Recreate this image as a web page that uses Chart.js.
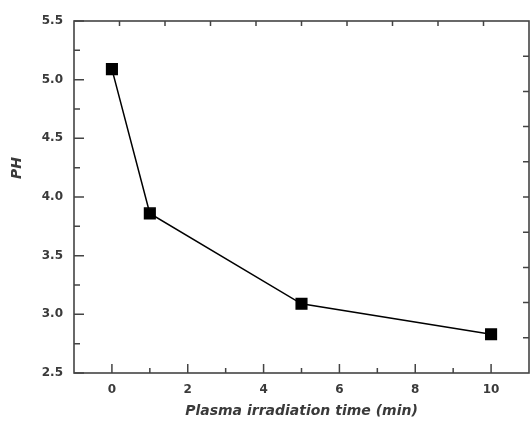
<!DOCTYPE html>
<html>
<head>
<meta charset="utf-8">
<script src="https://cdn.jsdelivr.net/npm/chart.js@4/dist/chart.umd.min.js"></script>
<style>
  html, body { margin: 0; padding: 0; background: #fff; overflow: hidden; }
  canvas { display: block; }
</style>
</head>
<body>
<canvas id="phChart" width="531" height="424"></canvas>
<script>
const times = [0, 1, 5, 10];
const phValues = [5.09, 3.86, 3.09, 2.83];
const xTicks = [0, 2, 4, 6, 8, 10];
const xMinor = [1, 3, 5, 7, 9];
const yTicks = [2.5, 3.0, 3.5, 4.0, 4.5, 5.0, 5.5];
const yMinor = [2.75, 3.25, 3.75, 4.25, 4.75, 5.25];
const frameTicks = [1, 2, 3, 4, 5, 6, 7, 8, 9];
const yTitle = "PH";

const axisColor = "#444";
const labelColor = "#3a3a3a";
const fontFamily = "'DejaVu Sans', sans-serif";

// inward tick marks on all four sides, the frame, and the y title
const frameTicksPlugin = {
  id: "frameTicks",
  afterDraw(chart) {
    const { ctx, chartArea: a, scales } = chart;
    ctx.save();
    ctx.strokeStyle = axisColor;
    ctx.lineWidth = 1.6;
    ctx.strokeRect(a.left, a.top, a.right - a.left, a.bottom - a.top);
    ctx.lineWidth = 1.5;
    ctx.beginPath();
    xTicks.forEach(v => {
      const px = scales.x.getPixelForValue(v);
      ctx.moveTo(px, a.bottom); ctx.lineTo(px, a.bottom - 9);
    });
    xMinor.forEach(v => {
      const px = scales.x.getPixelForValue(v);
      ctx.moveTo(px, a.bottom); ctx.lineTo(px, a.bottom - 5);
    });
    yTicks.forEach(v => {
      const py = scales.y.getPixelForValue(v);
      ctx.moveTo(a.left, py); ctx.lineTo(a.left + 10, py);
    });
    yMinor.forEach(v => {
      const py = scales.y.getPixelForValue(v);
      ctx.moveTo(a.left, py); ctx.lineTo(a.left + 6, py);
    });
    frameTicks.forEach(v => {
      const px = scales.x2.getPixelForValue(v);
      ctx.moveTo(px, a.top); ctx.lineTo(px, a.top + 5);
      const py = scales.y2.getPixelForValue(v);
      ctx.moveTo(a.right, py); ctx.lineTo(a.right - 6, py);
    });
    ctx.stroke();

    // y title sits above the middle of the axis in the original
    ctx.translate(17, 168);
    ctx.rotate(-Math.PI / 2);
    ctx.fillStyle = labelColor;
    ctx.font = "italic bold 14px " + fontFamily;
    ctx.textAlign = "center";
    ctx.textBaseline = "middle";
    ctx.fillText(yTitle, 0, 0);
    ctx.restore();
  }
};

const phChart = new Chart("phChart", {
  type: "scatter",
  data: {
    datasets: [
      {
        data: times.map((t, i) => ({ x: t, y: phValues[i] })),
        showLine: true,
        borderColor: "#000",
        borderWidth: 1.5,
        backgroundColor: "#000",
        pointStyle: "rect",
        pointRadius: 7.5,
        pointHoverRadius: 7.5,
      },
    ],
  },
  options: {
    responsive: false,
    animation: false,
    layout: { autoPadding: false, padding: { top: 21, right: 2, left: 0, bottom: 0 } },
    plugins: {
      legend: { display: false },
      tooltip: { enabled: false },
    },
    scales: {
      x: {
        type: "linear",
        min: -1,
        max: 11,
        afterBuildTicks: s => { s.ticks = xTicks.map(v => ({ value: v })); },
        afterFit: s => { s.height = 51; },
        grid: { display: false, drawTicks: false },
        border: { display: false },
        ticks: {
          padding: 10,
          color: labelColor,
          font: { family: fontFamily, size: 12, weight: "bold" },
        },
        title: {
          display: true,
          text: "Plasma irradiation time (min)",
          color: labelColor,
          padding: { top: 0, bottom: 4 },
          font: { family: fontFamily, size: 14, weight: "bold", style: "italic" },
        },
      },
      y: {
        type: "linear",
        min: 2.5,
        max: 5.5,
        afterBuildTicks: s => { s.ticks = yTicks.map(v => ({ value: v })); },
        afterFit: s => { s.width = 74; },
        grid: { display: false, drawTicks: false },
        border: { display: false },
        ticks: {
          padding: 11,
          color: labelColor,
          font: { family: fontFamily, size: 12, weight: "bold" },
          callback: v => v.toFixed(1),
        },
      },
      x2: {
        type: "linear", position: "top", min: 0, max: 10, display: false,
        afterFit: s => { s.height = 0; },
      },
      y2: {
        type: "linear", position: "right", min: 0, max: 10, reverse: true, display: false,
        afterFit: s => { s.width = 0; },
      },
    },
  },
  plugins: [frameTicksPlugin],
});
</script>
</body>
</html>
